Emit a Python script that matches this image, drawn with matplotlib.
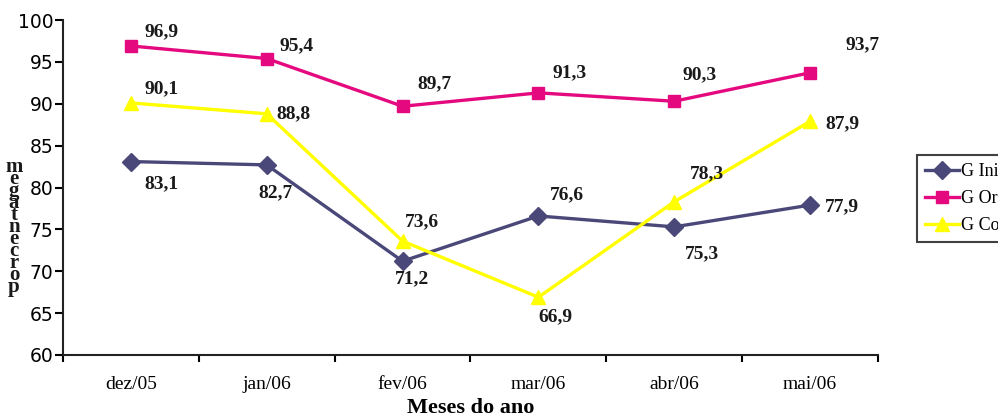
import matplotlib.pyplot as plt
import numpy as np

months = ["dez/05", "jan/06", "fev/06", "mar/06", "abr/06", "mai/06"]
g_in = [83.1, 82.7, 71.2, 76.6, 75.3, 77.9]
g_or = [96.9, 95.4, 89.7, 91.3, 90.3, 93.7]
g_co = [90.1, 88.8, 73.6, 66.9, 78.3, 87.9]
series_names = ["G Inicial", "G Orientado", "G Controlo"]

# where each value label sits relative to its marker (pixels)
off_in = [(31, -22), (9, -28), (9, -18), (29, 21), (28, -27), (32, -2)]
off_or = [(31, 14), (30, 13), (32, 23), (31, 20), (25, 27), (52, 28)]
off_co = [(31, 14), (27, 0), (19, 19), (17, -20), (33, 28), (32, -2)]

plt.rcParams['font.family'] = ['Liberation Serif', 'DejaVu Serif']

fig = plt.figure(figsize=(9.98, 4.18), dpi=100)
ax = fig.add_axes([63/998, 1-355/418, (878-63)/998, (355-20)/418])

x = np.arange(len(months))
styles = [
    (g_in, '#4A4878', 'D', 9, off_in),
    (g_or, '#E5097F', 's', 9, off_or),
    (g_co, '#FFFF00', '^', 10, off_co),
]
for (vals, col, mk, ms, offs), name in zip(styles, series_names):
    ax.plot(x, vals, color=col, marker=mk, markersize=ms, linewidth=2.4, label=name, clip_on=False)
    for xi, v, (dx, dy) in zip(x, vals, offs):
        ax.annotate(f"{v:.1f}".replace('.', ','), (xi, v), xytext=(dx, dy),
                    textcoords='offset pixels', ha='center', va='center',
                    fontsize=14, fontweight='bold', color='#1a1a1a')

ax.set_xlim(-0.5, len(months) - 0.5)
ax.set_ylim(60, 100)
ax.set_yticks(np.arange(60, 101, 5))
ax.set_xticks(x)
ax.set_xticklabels(months, fontsize=14)
ax.set_xticks(np.arange(-0.5, len(months), 1), minor=True)
ax.tick_params(axis='x', which='major', length=0, pad=15)
ax.tick_params(axis='x', which='minor', length=5, width=1.5, direction='out')
ax.tick_params(axis='y', length=6, width=1.5, direction='out', pad=1)
for lab in ax.get_yticklabels():
    lab.set_family(['DejaVu Sans'])
    lab.set_fontsize(13.5)

for s in ['top', 'right']:
    ax.spines[s].set_visible(False)
for s in ['left', 'bottom']:
    ax.spines[s].set_linewidth(1.5)
    ax.spines[s].set_color('#222222')

ax.set_xlabel("Meses do ano", fontsize=16, fontweight='bold', labelpad=4)

# stacked axis title
fig.text(14/998, 1-227/418, '\n'.join(reversed("porcentagem")), ha='center', va='center',
         fontsize=15, fontweight='bold', linespacing=0.47, color='#1a1a1a')

leg = fig.legend(loc='upper left', bbox_to_anchor=(917/998, 1-155/418), fontsize=13,
                 frameon=True, fancybox=False, edgecolor='#111111', handlelength=1.9,
                 handletextpad=0.1, borderpad=0.45, labelspacing=0.55, borderaxespad=0)
leg.get_frame().set_linewidth(1.5)

fig.savefig("out.png", dpi=100)
